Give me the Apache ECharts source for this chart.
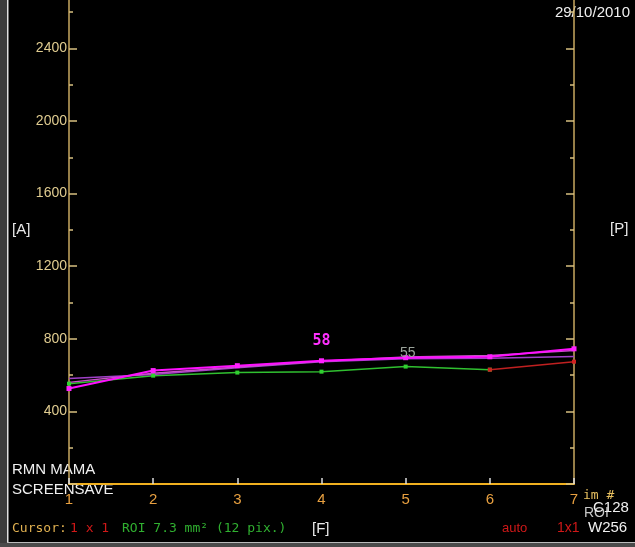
<!DOCTYPE html>
<html>
<head>
<meta charset="utf-8">
<script src="https://cdn.jsdelivr.net/npm/echarts@6/dist/echarts.min.js"></script>
<style>
  html,body{margin:0;padding:0;background:#000;}
  #roiChart{width:635px;height:547px;}
</style>
</head>
<body>
<div id="roiChart"></div>
<script>
  // image number on the x axis
  const imgNum = [1, 2, 3, 4, 5, 6, 7];
  // signal intensity per ROI
  const roiMagenta = [526, 625, 652, 679, 696, 701, 745];
  const roiPurple  = [581, 603, 641, 674, 690, 693, 702];
  const roiViolet  = [560, 610, 645, 676, 700, 708, 735];
  const roiGreen   = [553, 597, 614, 619, 647, 630, null];
  const roiRed     = [null, null, null, null, null, 630, 674];
  // y ticks
  const majorTicks = [0, 400, 800, 1200, 1600, 2000, 2400];
  const minorTicks = [200, 600, 1000, 1400, 1800, 2200, 2600];
  const yLabels = [400, 800, 1200, 1600, 2000, 2400];

  const pts = arr => imgNum.map((x, i) => [x, arr[i]]);

  let chart = echarts.init(document.getElementById('roiChart'));

  let greenData = pts(roiGreen);
  greenData[4] = {value: greenData[4], label: {show: true, formatter: '55', position: 'top', distance: 4, offset: [2, 0], color: '#9aa39a', fontSize: 14, fontFamily: 'Liberation Sans'}};
  let magentaData = pts(roiMagenta);
  magentaData[3] = {value: magentaData[3], label: {show: true, formatter: '58', position: 'top', distance: 10, color: '#ff30ff', fontSize: 15, fontWeight: 'bold', fontFamily: 'DejaVu Sans Mono'}};

  const yAx = (pos, ticks, len, showLine, labels) => ({
    type: 'value', position: pos, min: 0, max: 2667,
    axisLine: {show: showLine, lineStyle: {color: '#c8a860', width: 1.5}},
    axisTick: {show: true, inside: true, length: len, customValues: ticks, lineStyle: {color: '#d8c080', width: 1.5}},
    axisLabel: labels ? {show: true, customValues: labels, formatter: v => String(v), color: '#e0cc90', fontSize: 14, margin: 2, fontFamily: 'Liberation Sans'} : {show: false},
    splitLine: {show: false}
  });

  let option = {
    backgroundColor: '#000',
    animation: false,
    grid: {left: 69, right: 61, top: 0, bottom: 63, outerBoundsMode: 'none'},
    xAxis: {
      type: 'value', min: 1, max: 7, interval: 1,
      axisLine: {lineStyle: {color: '#f0b020', width: 2}},
      axisTick: {inside: true, length: 6, lineStyle: {color: '#dddddd', width: 1.5}},
      axisLabel: {
        fontSize: 15, margin: 8, fontFamily: 'Liberation Sans',
        color: (v) => (v === 1 || v === 7) ? '#e01818' : '#e8a040'
      },
      splitLine: {show: false}
    },
    yAxis: [
      yAx('left', majorTicks, 8, true, yLabels),
      yAx('left', minorTicks, 4, false, null),
      yAx('right', majorTicks, 8, true, null),
      yAx('right', minorTicks, 4, false, null)
    ],
    series: [
      {name: 'green', type: 'line', data: greenData, symbol: 'rect', symbolSize: 4,
        lineStyle: {color: '#30c030', width: 1.5}, itemStyle: {color: '#30d030'}},
      {name: 'red', type: 'line', data: pts(roiRed), symbol: 'rect', symbolSize: 4,
        lineStyle: {color: '#c02020', width: 1.5}, itemStyle: {color: '#d02020'}},
      {name: 'purple', type: 'line', data: pts(roiPurple), symbol: 'none',
        lineStyle: {color: '#a040c8', width: 1.5}},
      {name: 'violet', type: 'line', data: pts(roiViolet), symbol: 'none',
        lineStyle: {color: '#c850c8', width: 1.5}},
      {name: 'magenta', type: 'line', data: magentaData, symbol: 'rect', symbolSize: 5,
        lineStyle: {color: '#ff10ff', width: 2}, itemStyle: {color: '#ff20ff'}}
    ],
    graphic: [
      {type: 'rect', shape: {x: 0, y: 0, width: 7, height: 547}, style: {fill: '#3c3c3c'}},
      {type: 'rect', shape: {x: 7, y: 0, width: 1.5, height: 543}, style: {fill: '#e0e0e0'}},
      {type: 'rect', shape: {x: 0, y: 543, width: 635, height: 4}, style: {fill: '#4a4a4a'}},
      {type: 'rect', shape: {x: 7, y: 542, width: 628, height: 1}, style: {fill: '#bbbbbb'}},
      {type: 'text', right: 5, top: 5, style: {text: '29/10/2010', fill: '#f0f0f0', fontSize: 15, fontFamily: 'Liberation Sans'}},
      {type: 'text', left: 12, top: 222, style: {text: '[A]', fill: '#e8e8e8', fontSize: 15, fontFamily: 'Liberation Sans'}},
      {type: 'text', left: 610, top: 221, style: {text: '[P]', fill: '#e8e8e8', fontSize: 15, fontFamily: 'Liberation Sans'}},
      {type: 'text', left: 12, top: 462, style: {text: 'RMN MAMA', fill: '#f0f0f0', fontSize: 15, fontFamily: 'Liberation Sans'}},
      {type: 'text', left: 12, top: 482, style: {text: 'SCREENSAVE', fill: '#f0f0f0', fontSize: 15, fontFamily: 'Liberation Sans'}},
      {type: 'text', left: 12, top: 522, style: {text: 'Cursor:', fill: '#e0b050', fontSize: 13, fontFamily: 'DejaVu Sans Mono'}},
      {type: 'text', left: 70, top: 522, style: {text: '1 x 1', fill: '#d01818', fontSize: 13, fontFamily: 'DejaVu Sans Mono'}},
      {type: 'text', left: 122, top: 522, style: {text: 'ROI 7.3 mm² (12 pix.)', fill: '#30b030', fontSize: 13, fontFamily: 'DejaVu Sans Mono'}},
      {type: 'text', left: 312, top: 521, style: {text: '[F]', fill: '#e8e8e8', fontSize: 15, fontFamily: 'Liberation Sans'}},
      {type: 'text', left: 502, top: 522, style: {text: 'auto', fill: '#d01818', fontSize: 13, fontFamily: 'Liberation Sans'}},
      {type: 'text', left: 557, top: 521, style: {text: '1x1', fill: '#d01818', fontSize: 14, fontFamily: 'Liberation Sans'}},
      {type: 'text', left: 588, top: 520, style: {text: 'W256', fill: '#f0f0f0', fontSize: 15, fontFamily: 'Liberation Sans'}},
      {type: 'text', left: 583, top: 489, style: {text: 'im #', fill: '#e8c060', fontSize: 13, fontFamily: 'DejaVu Sans Mono'}},
      {type: 'text', left: 584, top: 506, style: {text: 'ROI', fill: '#c8c8c8', fontSize: 14, fontFamily: 'Liberation Sans'}},
      {type: 'text', left: 593, top: 500, style: {text: 'C128', fill: '#f0f0f0', fontSize: 15, fontFamily: 'Liberation Sans'}}
    ]
  };
  chart.setOption(option);
</script>
</body>
</html>
